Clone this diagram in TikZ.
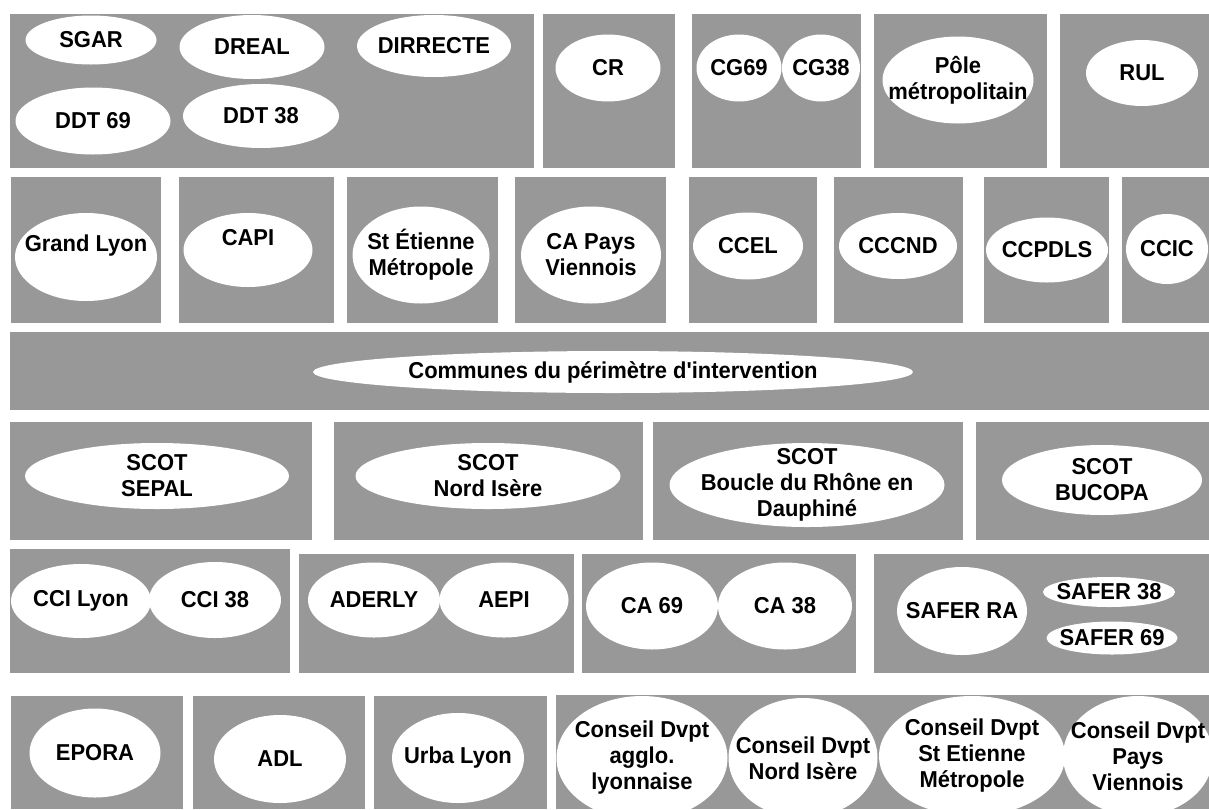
\documentclass[tikz,border=0pt]{standalone}
\usepackage{fontspec}
\setmainfont{Liberation Sans}[Ligatures=TeXOff, FakeStretch=0.955]
\usepackage{xcolor}
\usepackage{tikz}
\usetikzlibrary{shapes.geometric}
\definecolor{boxgray}{HTML}{989898}
\tikzset{
  groupbox/.style={
    fill=boxgray, draw=none
  },
  orgnode/.style 2 args={
    ellipse, fill=white, draw=none,
    minimum width=#1, minimum height=#2,
    inner xsep=-60pt, inner ysep=-40pt,
    font=\fontsize{23}{26}\selectfont\bfseries, align=center
  },
  orgtext/.style={
    font=\fontsize{23}{26}\selectfont\bfseries, align=center,
    inner sep=0pt
  },
}

\begin{document}
\begin{tikzpicture}[x=1pt,y=-1pt]
  \useasboundingbox (0,0) rectangle (1209,809);
  \fill[white] (0,0) rectangle (1209,809);

  % Group boxes
  \fill[groupbox] (10,14) rectangle (534,168);
  \fill[groupbox] (543,14) rectangle (675,168);
  \fill[groupbox] (692,14) rectangle (861,168);
  \fill[groupbox] (874,14) rectangle (1047,168);
  \fill[groupbox] (1060,14) rectangle (1209,168);

  \fill[groupbox] (11,177) rectangle (161,323);
  \fill[groupbox] (179,177) rectangle (334,323);
  \fill[groupbox] (347,177) rectangle (498,323);
  \fill[groupbox] (515,177) rectangle (666,323);
  \fill[groupbox] (689,177) rectangle (817,323);
  \fill[groupbox] (834,177) rectangle (963,323);
  \fill[groupbox] (984,177) rectangle (1109,323);
  \fill[groupbox] (1122,177) rectangle (1209,323);

  \fill[groupbox] (10,332) rectangle (1209,410);

  \fill[groupbox] (10,422) rectangle (312,540);
  \fill[groupbox] (334,422) rectangle (643,540);
  \fill[groupbox] (653,422) rectangle (963,540);
  \fill[groupbox] (976,422) rectangle (1209,540);

  \fill[groupbox] (10,549) rectangle (290,673);
  \fill[groupbox] (299,554) rectangle (574,673);
  \fill[groupbox] (582,554) rectangle (856,673);
  \fill[groupbox] (874,554) rectangle (1209,673);

  \fill[groupbox] (11,696) rectangle (183,809);
  \fill[groupbox] (193,696) rectangle (365,809);
  \fill[groupbox] (374,696) rectangle (547,809);
  \fill[groupbox] (556,695) rectangle (1209,809);

  % State and region
  \node[orgnode={131}{49}] (sgar) at (91,40) {SGAR};
  \node[orgnode={145}{64}] (dreal) at (252,47) {DREAL};
  \node[orgnode={154}{62}] (dirrecte) at (434,46) {DIRRECTE};
  \node[orgnode={155}{67}] (ddt69) at (93,121) {DDT 69};
  \node[orgnode={156}{64}] (ddt38) at (261,116) {DDT 38};
  \node[orgnode={105}{67}] (cr) at (608,68) {CR};
  \node[orgnode={85}{67}] (cg69) at (739,68) {CG69};
  \node[orgnode={78}{67}] (cg38) at (821,68) {CG38};
  \node[orgnode={151}{87}] (pole) at (958,80) {Pôle\\métropolitain};
  \node[orgnode={112}{66}] (rul) at (1142,73) {RUL};

  % Intercommunalities
  \node[orgnode={142}{88}] (grandlyon) at (86,257) {};
  \node[orgtext] (grandlyon-t) at (86,246) {Grand Lyon};
  \node[orgnode={129}{74}] (capi) at (248,250) {};
  \node[orgtext] (capi-t) at (248,238) {CAPI};
  \node[orgnode={137}{97}] (sem) at (421,255) {St Étienne\\Métropole};
  \node[orgnode={140}{97}] (capv) at (591,255) {CA Pays\\Viennois};
  \node[orgnode={110}{67}] (ccel) at (748,246) {CCEL};
  \node[orgnode={118}{66}] (cccnd) at (898,246) {CCCND};
  \node[orgnode={122}{65}] (ccpdls) at (1047,250) {CCPDLS};
  \node[orgnode={82}{70}] (ccic) at (1167,249) {CCIC};

  \node[orgnode={600}{42}] (communes) at (613,372) {Communes du périmètre d'intervention};

  % SCOT
  \node[orgnode={264}{66}] (sepal) at (157,476) {SCOT\\SEPAL};
  \node[orgnode={265}{66}] (nordisere) at (488,476) {SCOT\\Nord Isère};
  \node[orgnode={275}{84}] (boucle) at (807,485) {SCOT\\Boucle du Rhône en\\Dauphiné};
  \node[orgnode={200}{70}] (bucopa) at (1102,480) {SCOT\\BUCOPA};

  % Chambers and agencies
  \node[orgnode={140}{74}] (ccilyon) at (81,601) {CCI Lyon};
  \node[orgnode={132}{76}] (cci38) at (215,600) {CCI 38};
  \node[orgnode={132}{75}] (aderly) at (374,600) {ADERLY};
  \node[orgnode={129}{75}] (aepi) at (504,600) {AEPI};
  \node[orgnode={132}{87}] (ca69) at (652,606) {CA 69};
  \node[orgnode={134}{87}] (ca38) at (785,606) {CA 38};
  \node[orgnode={130}{88}] (saferra) at (962,611) {SAFER RA};
  \node[orgnode={132}{30}] (safer38) at (1109,592) {SAFER 38};
  \node[orgnode={131}{33}] (safer69) at (1112,638) {SAFER 69};

  \node[orgnode={131}{89}] (epora) at (95,753) {EPORA};
  \node[orgnode={132}{88}] (adl) at (280,759) {ADL};
  \node[orgnode={132}{90}] (urba) at (458,758) {Urba Lyon};
  \node[orgnode={171}{124}] (cdagglo) at (642,758) {Conseil Dvpt\\agglo.\\lyonnaise};
  \node[orgnode={149}{120}] (cdnord) at (803,758) {Conseil Dvpt\\Nord Isère};
  \node[orgnode={186}{120}] (cdstet) at (972,756) {Conseil Dvpt\\St Etienne\\Métropole};
  \node[orgnode={150}{120}] (cdpays) at (1138,756) {Conseil Dvpt\\Pays\\Viennois};
\end{tikzpicture}
\end{document}
